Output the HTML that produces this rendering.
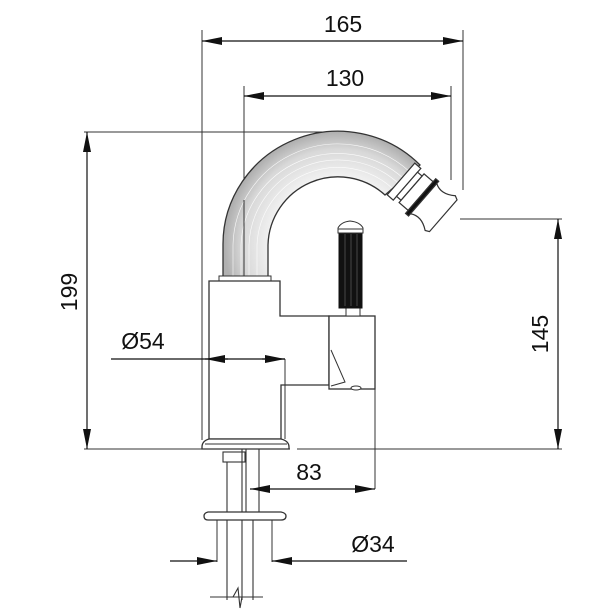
<!DOCTYPE html>
<html><head><style>html,body{margin:0;padding:0;background:#fff}svg{display:block}</style></head>
<body>
<svg width="615" height="615" viewBox="0 0 615 615" xmlns="http://www.w3.org/2000/svg" font-family="Liberation Sans, sans-serif">
<defs>
<marker id="a" viewBox="0 0 20 8" refX="20" refY="4" markerWidth="20" markerHeight="8" markerUnits="userSpaceOnUse" orient="auto-start-reverse"><path d="M0,0 L20,4 L0,8 Z" fill="#111"/></marker>
<radialGradient id="g" cx="338" cy="245" r="113" gradientUnits="userSpaceOnUse"><stop offset="0.6" stop-color="#f2f2f2"/><stop offset="0.85" stop-color="#d8d8d8"/><stop offset="1" stop-color="#b0b0b0"/></radialGradient>
</defs>
<g stroke="#333" stroke-width="1" fill="none">
<line x1="202" y1="30" x2="202" y2="440"/>
<line x1="463" y1="30" x2="463" y2="190"/>
<line x1="244" y1="86" x2="244" y2="278"/>
<line x1="451" y1="86" x2="451" y2="180"/>
<line x1="84" y1="132" x2="340" y2="132"/>
<line x1="84" y1="449" x2="290" y2="449"/>
<line x1="297" y1="449" x2="562" y2="449"/>
<line x1="460" y1="219" x2="562" y2="219"/>
<line x1="375" y1="389" x2="375" y2="489"/>
<line x1="217" y1="520" x2="217" y2="562"/>
<line x1="272" y1="520" x2="272" y2="562"/>
</g>
<!-- spout -->
<path d="M223,278 L223,245 A115,113 0 0 1 420,165 L385,195 A70,70 0 0 0 268,245 L268,278 Z" fill="url(#g)" stroke="#333" stroke-width="1.3"/>
<g stroke="#fff" stroke-width="0.6" fill="none" opacity="0.9">
<path d="M233,278 L233,245 A105,103 0 0 1 410,172"/>
<path d="M241,278 L241,245 A97,95 0 0 1 403,178"/>
<path d="M249,278 L249,245 A89,88 0 0 1 398,183"/>
<path d="M257,278 L257,245 A81,81 0 0 1 392,188"/>
</g>
<line x1="244" y1="200" x2="244" y2="278" stroke="#333" stroke-width="1"/>
<!-- nozzle -->
<g transform="translate(401,179) rotate(41)" stroke="#333" stroke-width="1.2" fill="#fff">
<rect x="0" y="-21" width="8" height="42"/>
<rect x="8" y="-16" width="6" height="32"/>
<rect x="14" y="-19" width="12" height="38"/>
<rect x="26" y="-23" width="4" height="46" fill="#111"/>
<path d="M30,-20 Q40,-14 52,-23 L56,-21 L56,21 L52,23 Q40,14 30,20 Z"/>
</g>
<rect x="219" y="276" width="52" height="5" fill="#fff" stroke="#333"/>
<!-- body -->
<path d="M209,281 L280,281 L280,316 L329,316 L329,385 L281,385 L281,439 L209,439 Z" fill="#fff" stroke="#333" stroke-width="1.3"/>
<rect x="329" y="316" width="46" height="73" fill="#fff" stroke="#333" stroke-width="1.3"/>
<path d="M331,350 L345,382 L331,386" fill="none" stroke="#333"/>
<ellipse cx="356" cy="388" rx="5" ry="2" fill="#fff" stroke="#333"/>
<line x1="202" y1="281" x2="202" y2="440" stroke="#333"/>
<line x1="285" y1="359" x2="285" y2="439" stroke="#333"/>
<!-- lever -->
<rect x="346" y="306" width="14" height="10" fill="#fff" stroke="#333"/>
<rect x="339" y="232" width="23" height="76" fill="#111" stroke="#111"/>
<g stroke="#555" stroke-width="0.8"><line x1="345" y1="234" x2="345" y2="306"/><line x1="351" y1="234" x2="351" y2="306"/><line x1="357" y1="234" x2="357" y2="306"/></g>
<path d="M338,233 L338,228 Q341,222 350,221 Q360,222 363,228 L363,233 Z" fill="#fff" stroke="#333"/>
<line x1="338" y1="229" x2="363" y2="229" stroke="#333"/>
<!-- base -->
<path d="M209,439 L281,439 Q289,441 289,447 L289,449 L202,449 L202,447 Q202,441 209,439 Z" fill="#fff" stroke="#333" stroke-width="1.3"/>
<line x1="205" y1="444" x2="287" y2="444" stroke="#333"/>
<!-- shank -->
<g stroke="#333" stroke-width="1.1" fill="none">
<rect x="223" y="452" width="22" height="10" fill="#fff"/>
<line x1="227" y1="462" x2="227" y2="600"/>
<line x1="242" y1="449" x2="242" y2="600"/>
<line x1="246" y1="449" x2="246" y2="515"/>
<line x1="259" y1="449" x2="259" y2="512"/>
<line x1="253" y1="520" x2="253" y2="600"/>
<line x1="210" y1="597" x2="263" y2="597"/>
<path d="M233,597 L238,588 L240,608 L242,597"/>
</g>
<path d="M208,512 L281,512 Q286,513 286,516 Q286,520 281,520 L208,520 Q204,520 204,516 Q204,513 208,512 Z" fill="#fff" stroke="#333" stroke-width="1.3"/>
<!-- dimension lines -->
<g stroke="#111" stroke-width="1.2" fill="none">
<line x1="202" y1="41" x2="463" y2="41" marker-start="url(#a)" marker-end="url(#a)"/>
<line x1="244" y1="96" x2="451" y2="96" marker-start="url(#a)" marker-end="url(#a)"/>
<line x1="87" y1="132" x2="87" y2="449" marker-start="url(#a)" marker-end="url(#a)"/>
<line x1="558" y1="219" x2="558" y2="449" marker-start="url(#a)" marker-end="url(#a)"/>
<line x1="111" y1="359" x2="285" y2="359"/>
<line x1="228" y1="359" x2="205" y2="359" marker-end="url(#a)"/>
<line x1="262" y1="359" x2="285" y2="359" marker-end="url(#a)"/>
<line x1="250" y1="489" x2="375" y2="489" marker-start="url(#a)" marker-end="url(#a)"/>
<line x1="170" y1="561" x2="217" y2="561" marker-end="url(#a)"/>
<line x1="407" y1="561" x2="272" y2="561" marker-end="url(#a)"/>
</g>
<g fill="#111" font-size="23" text-anchor="middle">
<text x="343" y="32">165</text>
<text x="345" y="86">130</text>
<text x="143" y="349">Ø54</text>
<text x="309" y="480">83</text>
<text x="373" y="552">Ø34</text>
<text transform="translate(77,292) rotate(-90)">199</text>
<text transform="translate(548,334) rotate(-90)">145</text>
</g>
</svg>
</body></html>
